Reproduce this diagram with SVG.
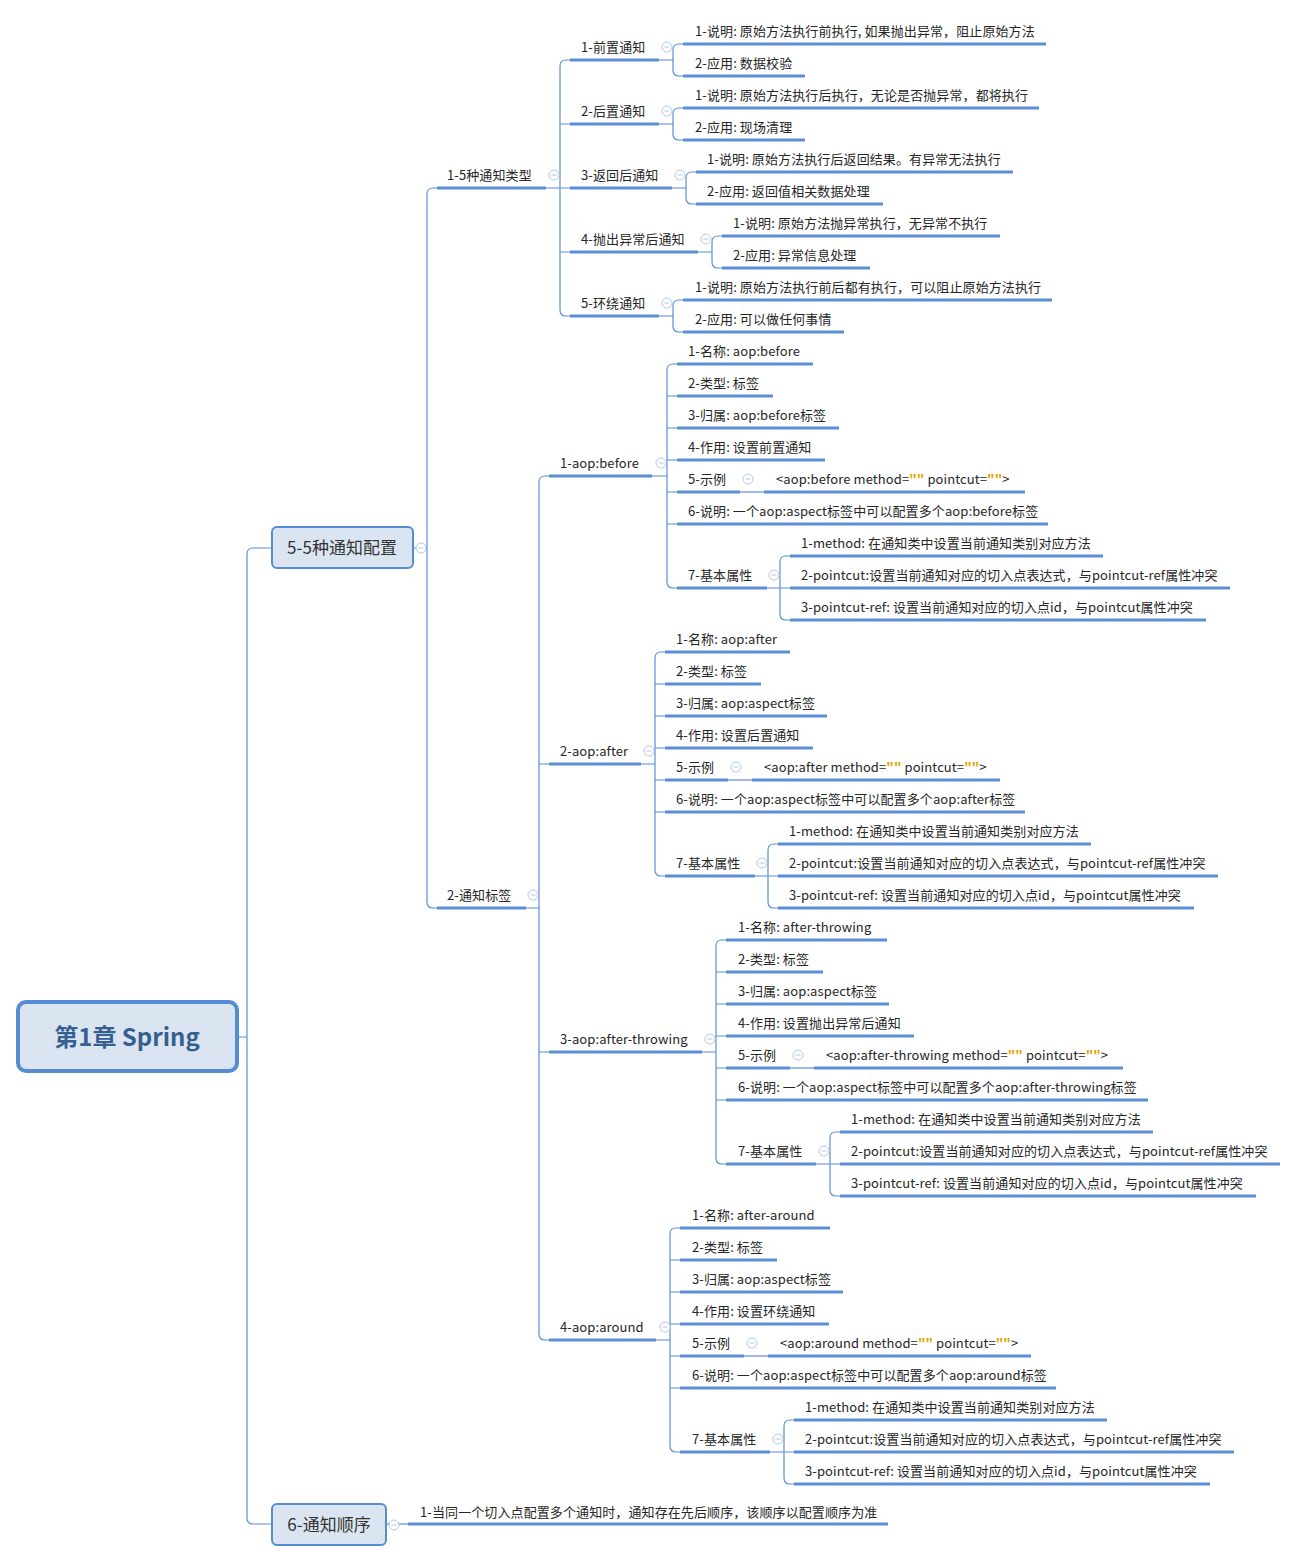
<svg xmlns="http://www.w3.org/2000/svg" width="1298" height="1562" viewBox="0 0 1298 1562">
<style>
.t{font-family:"Noto Sans CJK SC","Microsoft YaHei",sans-serif;font-size:13px;fill:#262626;letter-spacing:0.1px}
.b{font-family:"Noto Sans CJK SC","Microsoft YaHei",sans-serif;font-size:17px;fill:#333;text-anchor:middle}
.r{font-family:"Noto Sans CJK SC","Microsoft YaHei",sans-serif;font-size:24px;font-weight:bold;fill:#365f91;text-anchor:middle}
.u{stroke:#5b8ed6;stroke-width:3;fill:none}
.c{stroke:#5b8ed6;stroke-width:1.2;fill:none}
.q{fill:#e0a400;font-weight:bold}
.box{fill:#dbe5f1;stroke:#548dd4;stroke-width:2}
</style>
<defs>
<g id="col"><circle r="5" fill="#ffffff" stroke="#b4c7e7" stroke-width="1"/><path d="M-2.5 0H2.5" stroke="#b4c7e7" stroke-width="1"/></g>
</defs>
<rect width="1298" height="1562" fill="#fff"/>
<g id="connectors">
<path class="c" d="M237 1037H247M272 548H253Q247 548 247 554V1518Q247 1524 253 1524H272"/>
<path class="c" d="M413 548H427M437 188H433Q427 188 427 194V902Q427 908 433 908H437"/>
<path class="c" d="M546 188H570M570 60H566Q560 60 560 66V310Q560 316 566 316H570M560 124H570M560 252H570"/>
<path class="c" d="M659 60H673M683 44H679Q673 44 673 50V70Q673 76 679 76H683"/>
<path class="c" d="M659 124H673M683 108H679Q673 108 673 114V134Q673 140 679 140H683"/>
<path class="c" d="M672 188H686M696 172H692Q686 172 686 178V198Q686 204 692 204H696"/>
<path class="c" d="M698 252H712M722 236H718Q712 236 712 242V262Q712 268 718 268H722"/>
<path class="c" d="M659 316H673M683 300H679Q673 300 673 306V326Q673 332 679 332H683"/>
<path class="c" d="M526 908H539M549 476H545Q539 476 539 482V1334Q539 1340 545 1340H549M539 764H549M539 1052H549"/>
<path class="c" d="M652 476H667M677 364H673Q667 364 667 370V582Q667 588 673 588H677M667 396H677M667 428H677M667 460H677M667 492H677M667 524H677"/>
<path class="c" d="M740 492H764"/>
<path class="c" d="M767 588H780M790 556H786Q780 556 780 562V614Q780 620 786 620H790M780 588H790"/>
<path class="c" d="M641 764H655M665 652H661Q655 652 655 658V870Q655 876 661 876H665M655 684H665M655 716H665M655 748H665M655 780H665M655 812H665"/>
<path class="c" d="M728 780H752"/>
<path class="c" d="M755 876H768M778 844H774Q768 844 768 850V902Q768 908 774 908H778M768 876H778"/>
<path class="c" d="M702 1052H716M726 940H722Q716 940 716 946V1158Q716 1164 722 1164H726M716 972H726M716 1004H726M716 1036H726M716 1068H726M716 1100H726"/>
<path class="c" d="M790 1068H814"/>
<path class="c" d="M816 1164H830M840 1132H836Q830 1132 830 1138V1190Q830 1196 836 1196H840M830 1164H840"/>
<path class="c" d="M656 1340H670M680 1228H676Q670 1228 670 1234V1446Q670 1452 676 1452H680M670 1260H680M670 1292H680M670 1324H680M670 1356H680M670 1388H680"/>
<path class="c" d="M744 1356H768"/>
<path class="c" d="M770 1452H784M794 1420H790Q784 1420 784 1426V1478Q784 1484 790 1484H794M784 1452H794"/>
<path class="c" d="M386 1524H408"/>
</g>
<g id="root"><rect x="18" y="1002" width="219" height="69" rx="8" fill="#dbe5f1" stroke="#548dd4" stroke-width="4"/><text class="r" x="127" y="1046">第1章 Spring</text></g>
<g id="n55"><rect class="box" x="272" y="527" width="141" height="41" rx="5"/><text class="b" x="342" y="554">5-5种通知配置</text></g>
<g id="n6"><rect class="box" x="272" y="1504" width="114" height="41" rx="5"/><text class="b" x="329" y="1531">6-通知顺序</text></g>
<g id="n6c"><text class="t" x="420" y="1517">1-当同一个切入点配置多个通知时，通知存在先后顺序，该顺序以配置顺序为准</text><line class="u" x1="408" y1="1524" x2="888" y2="1524"/></g>

<g id="types"><text class="t" x="447" y="180">1-5种通知类型</text><line class="u" x1="437" y1="188" x2="546" y2="188"/></g>
<g id="t1"><text class="t" x="581" y="52">1-前置通知</text><line class="u" x1="570" y1="60" x2="659" y2="60"/></g>
<g id="t1a"><text class="t" x="695" y="36">1-说明: 原始方法执行前执行, 如果抛出异常，阻止原始方法</text><line class="u" x1="683" y1="44" x2="1046" y2="44"/></g>
<g id="t1b"><text class="t" x="695" y="68">2-应用: 数据校验</text><line class="u" x1="683" y1="76" x2="805" y2="76"/></g>
<g id="t2"><text class="t" x="581" y="116">2-后置通知</text><line class="u" x1="570" y1="124" x2="659" y2="124"/></g>
<g id="t2a"><text class="t" x="695" y="100">1-说明: 原始方法执行后执行，无论是否抛异常，都将执行</text><line class="u" x1="683" y1="108" x2="1039" y2="108"/></g>
<g id="t2b"><text class="t" x="695" y="132">2-应用: 现场清理</text><line class="u" x1="683" y1="140" x2="805" y2="140"/></g>
<g id="t3"><text class="t" x="581" y="180">3-返回后通知</text><line class="u" x1="570" y1="188" x2="672" y2="188"/></g>
<g id="t3a"><text class="t" x="707" y="164">1-说明: 原始方法执行后返回结果。有异常无法执行</text><line class="u" x1="696" y1="172" x2="1013" y2="172"/></g>
<g id="t3b"><text class="t" x="707" y="196">2-应用: 返回值相关数据处理</text><line class="u" x1="696" y1="204" x2="883" y2="204"/></g>
<g id="t4"><text class="t" x="581" y="244">4-抛出异常后通知</text><line class="u" x1="570" y1="252" x2="698" y2="252"/></g>
<g id="t4a"><text class="t" x="733" y="228">1-说明: 原始方法抛异常执行，无异常不执行</text><line class="u" x1="722" y1="236" x2="1000" y2="236"/></g>
<g id="t4b"><text class="t" x="733" y="260">2-应用: 异常信息处理</text><line class="u" x1="722" y1="268" x2="870" y2="268"/></g>
<g id="t5"><text class="t" x="581" y="308">5-环绕通知</text><line class="u" x1="570" y1="316" x2="659" y2="316"/></g>
<g id="t5a"><text class="t" x="695" y="292">1-说明: 原始方法执行前后都有执行，可以阻止原始方法执行</text><line class="u" x1="683" y1="300" x2="1052" y2="300"/></g>
<g id="t5b"><text class="t" x="695" y="324">2-应用: 可以做任何事情</text><line class="u" x1="683" y1="332" x2="844" y2="332"/></g>

<g id="tags"><text class="t" x="447" y="900">2-通知标签</text><line class="u" x1="437" y1="908" x2="526" y2="908"/></g>

<g id="before"><text class="t" x="560" y="468">1-aop:before</text><line class="u" x1="549" y1="476" x2="652" y2="476"/></g>
<g id="b1"><text class="t" x="688" y="356">1-名称: aop:before</text><line class="u" x1="677" y1="364" x2="813" y2="364"/></g>
<g id="b2"><text class="t" x="688" y="388">2-类型: 标签</text><line class="u" x1="677" y1="396" x2="773" y2="396"/></g>
<g id="b3"><text class="t" x="688" y="420">3-归属: aop:before标签</text><line class="u" x1="677" y1="428" x2="839" y2="428"/></g>
<g id="b4"><text class="t" x="688" y="452">4-作用: 设置前置通知</text><line class="u" x1="677" y1="460" x2="825" y2="460"/></g>
<g id="b5"><text class="t" x="688" y="484">5-示例</text><line class="u" x1="677" y1="492" x2="740" y2="492"/></g>
<g id="b5a"><text class="t" x="776" y="484">&lt;aop:before method=<tspan class="q">""</tspan> pointcut=<tspan class="q">""</tspan>&gt;</text><line class="u" x1="764" y1="492" x2="1025" y2="492"/></g>
<g id="b6"><text class="t" x="688" y="516">6-说明: 一个aop:aspect标签中可以配置多个aop:before标签</text><line class="u" x1="677" y1="524" x2="1048" y2="524"/></g>
<g id="b7"><text class="t" x="688" y="580">7-基本属性</text><line class="u" x1="677" y1="588" x2="767" y2="588"/></g>
<g id="b7a"><text class="t" x="801" y="548">1-method: 在通知类中设置当前通知类别对应方法</text><line class="u" x1="790" y1="556" x2="1103" y2="556"/></g>
<g id="b7b"><text class="t" x="801" y="580">2-pointcut:设置当前通知对应的切入点表达式，与pointcut-ref属性冲突</text><line class="u" x1="790" y1="588" x2="1230" y2="588"/></g>
<g id="b7c"><text class="t" x="801" y="612">3-pointcut-ref: 设置当前通知对应的切入点id，与pointcut属性冲突</text><line class="u" x1="790" y1="620" x2="1206" y2="620"/></g>

<g id="after"><text class="t" x="560" y="756">2-aop:after</text><line class="u" x1="549" y1="764" x2="641" y2="764"/></g>
<g id="a1"><text class="t" x="676" y="644">1-名称: aop:after</text><line class="u" x1="665" y1="652" x2="790" y2="652"/></g>
<g id="a2"><text class="t" x="676" y="676">2-类型: 标签</text><line class="u" x1="665" y1="684" x2="761" y2="684"/></g>
<g id="a3"><text class="t" x="676" y="708">3-归属: aop:aspect标签</text><line class="u" x1="665" y1="716" x2="827" y2="716"/></g>
<g id="a4"><text class="t" x="676" y="740">4-作用: 设置后置通知</text><line class="u" x1="665" y1="748" x2="813" y2="748"/></g>
<g id="a5"><text class="t" x="676" y="772">5-示例</text><line class="u" x1="665" y1="780" x2="728" y2="780"/></g>
<g id="a5a"><text class="t" x="764" y="772">&lt;aop:after method=<tspan class="q">""</tspan> pointcut=<tspan class="q">""</tspan>&gt;</text><line class="u" x1="752" y1="780" x2="1000" y2="780"/></g>
<g id="a6"><text class="t" x="676" y="804">6-说明: 一个aop:aspect标签中可以配置多个aop:after标签</text><line class="u" x1="665" y1="812" x2="1025" y2="812"/></g>
<g id="a7"><text class="t" x="676" y="868">7-基本属性</text><line class="u" x1="665" y1="876" x2="755" y2="876"/></g>
<g id="a7a"><text class="t" x="789" y="836">1-method: 在通知类中设置当前通知类别对应方法</text><line class="u" x1="778" y1="844" x2="1091" y2="844"/></g>
<g id="a7b"><text class="t" x="789" y="868">2-pointcut:设置当前通知对应的切入点表达式，与pointcut-ref属性冲突</text><line class="u" x1="778" y1="876" x2="1218" y2="876"/></g>
<g id="a7c"><text class="t" x="789" y="900">3-pointcut-ref: 设置当前通知对应的切入点id，与pointcut属性冲突</text><line class="u" x1="778" y1="908" x2="1194" y2="908"/></g>

<g id="throwing"><text class="t" x="560" y="1044">3-aop:after-throwing</text><line class="u" x1="549" y1="1052" x2="702" y2="1052"/></g>
<g id="w1"><text class="t" x="738" y="932">1-名称: after-throwing</text><line class="u" x1="726" y1="940" x2="887" y2="940"/></g>
<g id="w2"><text class="t" x="738" y="964">2-类型: 标签</text><line class="u" x1="726" y1="972" x2="823" y2="972"/></g>
<g id="w3"><text class="t" x="738" y="996">3-归属: aop:aspect标签</text><line class="u" x1="726" y1="1004" x2="889" y2="1004"/></g>
<g id="w4"><text class="t" x="738" y="1028">4-作用: 设置抛出异常后通知</text><line class="u" x1="726" y1="1036" x2="914" y2="1036"/></g>
<g id="w5"><text class="t" x="738" y="1060">5-示例</text><line class="u" x1="726" y1="1068" x2="790" y2="1068"/></g>
<g id="w5a"><text class="t" x="826" y="1060">&lt;aop:after-throwing method=<tspan class="q">""</tspan> pointcut=<tspan class="q">""</tspan>&gt;</text><line class="u" x1="814" y1="1068" x2="1123" y2="1068"/></g>
<g id="w6"><text class="t" x="738" y="1092">6-说明: 一个aop:aspect标签中可以配置多个aop:after-throwing标签</text><line class="u" x1="726" y1="1100" x2="1148" y2="1100"/></g>
<g id="w7"><text class="t" x="738" y="1156">7-基本属性</text><line class="u" x1="726" y1="1164" x2="816" y2="1164"/></g>
<g id="w7a"><text class="t" x="851" y="1124">1-method: 在通知类中设置当前通知类别对应方法</text><line class="u" x1="840" y1="1132" x2="1153" y2="1132"/></g>
<g id="w7b"><text class="t" x="851" y="1156">2-pointcut:设置当前通知对应的切入点表达式，与pointcut-ref属性冲突</text><line class="u" x1="840" y1="1164" x2="1280" y2="1164"/></g>
<g id="w7c"><text class="t" x="851" y="1188">3-pointcut-ref: 设置当前通知对应的切入点id，与pointcut属性冲突</text><line class="u" x1="840" y1="1196" x2="1256" y2="1196"/></g>

<g id="around"><text class="t" x="560" y="1332">4-aop:around</text><line class="u" x1="549" y1="1340" x2="656" y2="1340"/></g>
<g id="r1"><text class="t" x="692" y="1220">1-名称: after-around</text><line class="u" x1="680" y1="1228" x2="830" y2="1228"/></g>
<g id="r2"><text class="t" x="692" y="1252">2-类型: 标签</text><line class="u" x1="680" y1="1260" x2="777" y2="1260"/></g>
<g id="r3"><text class="t" x="692" y="1284">3-归属: aop:aspect标签</text><line class="u" x1="680" y1="1292" x2="843" y2="1292"/></g>
<g id="r4"><text class="t" x="692" y="1316">4-作用: 设置环绕通知</text><line class="u" x1="680" y1="1324" x2="829" y2="1324"/></g>
<g id="r5"><text class="t" x="692" y="1348">5-示例</text><line class="u" x1="680" y1="1356" x2="744" y2="1356"/></g>
<g id="r5a"><text class="t" x="780" y="1348">&lt;aop:around method=<tspan class="q">""</tspan> pointcut=<tspan class="q">""</tspan>&gt;</text><line class="u" x1="768" y1="1356" x2="1031" y2="1356"/></g>
<g id="r6"><text class="t" x="692" y="1380">6-说明: 一个aop:aspect标签中可以配置多个aop:around标签</text><line class="u" x1="680" y1="1388" x2="1056" y2="1388"/></g>
<g id="r7"><text class="t" x="692" y="1444">7-基本属性</text><line class="u" x1="680" y1="1452" x2="770" y2="1452"/></g>
<g id="r7a"><text class="t" x="805" y="1412">1-method: 在通知类中设置当前通知类别对应方法</text><line class="u" x1="794" y1="1420" x2="1107" y2="1420"/></g>
<g id="r7b"><text class="t" x="805" y="1444">2-pointcut:设置当前通知对应的切入点表达式，与pointcut-ref属性冲突</text><line class="u" x1="794" y1="1452" x2="1234" y2="1452"/></g>
<g id="r7c"><text class="t" x="805" y="1476">3-pointcut-ref: 设置当前通知对应的切入点id，与pointcut属性冲突</text><line class="u" x1="794" y1="1484" x2="1210" y2="1484"/></g>

<g id="collapse">
<use href="#col" x="421" y="548"/><use href="#col" x="394" y="1525"/>
<use href="#col" x="554" y="175"/><use href="#col" x="533" y="895"/>
<use href="#col" x="667" y="47"/><use href="#col" x="667" y="111"/><use href="#col" x="680" y="175"/><use href="#col" x="706" y="239"/><use href="#col" x="667" y="303"/>
<use href="#col" x="661" y="463"/><use href="#col" x="649" y="751"/><use href="#col" x="710" y="1039"/><use href="#col" x="665" y="1327"/>
<use href="#col" x="748" y="479"/><use href="#col" x="774" y="575"/>
<use href="#col" x="736" y="767"/><use href="#col" x="762" y="863"/>
<use href="#col" x="798" y="1055"/><use href="#col" x="824" y="1151"/>
<use href="#col" x="752" y="1343"/><use href="#col" x="778" y="1439"/>
</g>
</svg>
